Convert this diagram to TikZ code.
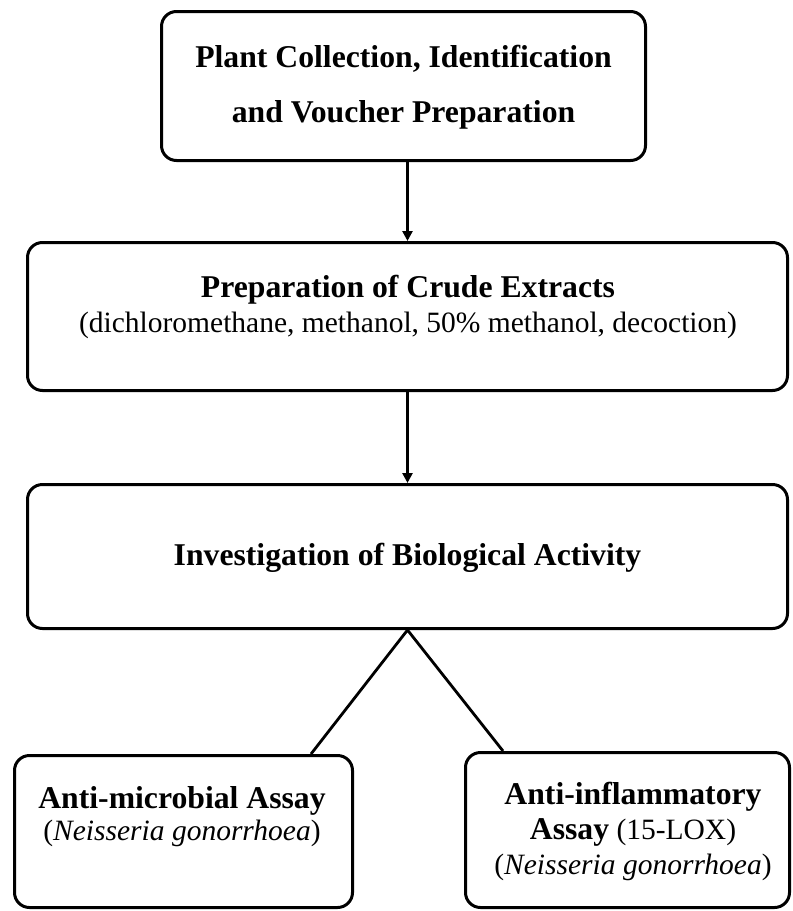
\documentclass[tikz,border=0pt]{standalone}
\usepackage{fontspec}
\setmainfont{Liberation Serif}
\usetikzlibrary{arrows.meta}
\newcommand{\boxhead}{\fontsize{31.7}{35}\selectfont\bfseries}
\begin{document}
\begin{tikzpicture}[x=1pt,y=-1pt,
    stagebox/.style={draw, line width=3pt, rounded corners=15pt, inner sep=0pt},
    stagetext/.style={align=center, inner sep=0pt, font=\fontsize{29.5}{35}\selectfont},
    flow/.style={line width=2.6pt, -{Triangle[length=10pt,width=10pt]}},
    branch/.style={line width=2.8pt}]
  \useasboundingbox (0,0) rectangle (793,911);
  % the five stages
  \node[stagebox, minimum width=484pt, minimum height=149pt] (plant) at (403.5,86) {};
  \node[stagebox, minimum width=760pt, minimum height=148pt] (crude) at (407.5,316.5) {};
  \node[stagebox, minimum width=760pt, minimum height=144pt] (bio) at (407.5,556.5) {};
  \node[stagebox, minimum width=338pt, minimum height=152pt] (micro) at (183.5,831.5) {};
  \node[stagebox, minimum width=324pt, minimum height=155pt] (inflam) at (627.5,830) {};
  % texts
  \node[stagetext, font=\fontsize{29.5}{55}\selectfont] (planttext) at (403.5,87)
    {{\boxhead Plant Collection, Identification}\\{\boxhead and Voucher Preparation}};
  \node[stagetext] (crudetext) at (408,307)
    {{\boxhead Preparation of Crude Extracts}\\(dichloromethane, methanol, 50\% methanol, decoction)};
  \node[stagetext] (biotext) at (407.5,558) {\boxhead Investigation of Biological Activity};
  \node[stagetext, font=\fontsize{29.5}{32}\selectfont] (microtext) at (182,816.5)
    {{\boxhead Anti-microbial Assay}\\(\textit{Neisseria gonorrhoea})};
  \node[stagetext] (inflamtext) at (633,831.5)
    {{\boxhead Anti-inflammatory}\\{\boxhead Assay} (15-LOX)\\(\textit{Neisseria gonorrhoea})};
  % connectors
  \draw[flow] (crude.north |- plant.south) -- (crude.north);
  \draw[flow] (crude.south) -- (bio.north);
  \draw[branch] ([xshift=-43pt]micro.north east) -- (bio.south) -- ([xshift=39pt]inflam.north west);
\end{tikzpicture}
\end{document}
